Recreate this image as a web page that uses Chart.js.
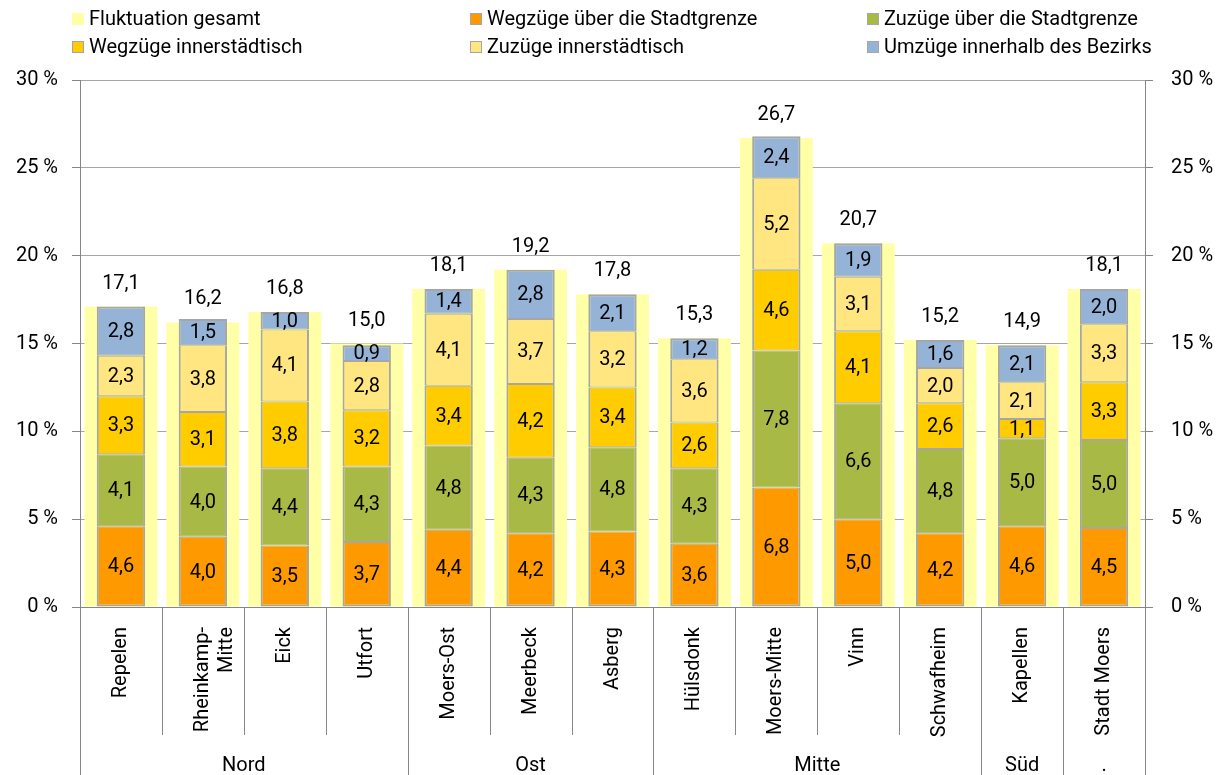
<!DOCTYPE html>
<html lang="de">
<head>
<meta charset="utf-8">
<title>Fluktuation nach Bezirken</title>
<script src="https://cdn.jsdelivr.net/npm/chart.js@4.4.1/dist/chart.umd.min.js"></script>
<style>
    body { margin: 0; background: #fff; font-family: Roboto, sans-serif; }
    #wrap { position: relative; width: 1217px; height: 775px; overflow: hidden; }
    #legend { position: absolute; top: 0; left: 0; width: 1217px; height: 70px; }
    .item { position: absolute; font-size: 20px; line-height: 24px; color: #000; white-space: nowrap; }
    .box { display: inline-block; width: 10px; height: 10px; border: 1px solid #a6a6a6; margin-right: 5px; vertical-align: 0; }
</style>
</head>
<body>
<div id="wrap">
    <canvas id="chart" width="1217" height="775"></canvas>
    <div id="legend"></div>
</div>
<script>
// ========== DATA ==========
const categories = [
    "Repelen", ["Rheinkamp-", "Mitte"], "Eick", "Utfort", "Moers-Ost", "Meerbeck", "Asberg",
    "Hülsdonk", "Moers-Mitte", "Vinn", "Schwafheim", "Kapellen", "Stadt Moers"
];
const groupLabels = ["Nord", "Ost", "Mitte", "Süd", "."];
const groupSizes = [4, 3, 4, 1, 1];

const fluktuationGesamt = [17.1, 16.2, 16.8, 15.0, 18.1, 19.2, 17.8, 15.3, 26.7, 20.7, 15.2, 14.9, 18.1];
const wegzuegeStadtgrenze = [4.6, 4.0, 3.5, 3.7, 4.4, 4.2, 4.3, 3.6, 6.8, 5.0, 4.2, 4.6, 4.5];
const zuzuegeStadtgrenze = [4.1, 4.0, 4.4, 4.3, 4.8, 4.3, 4.8, 4.3, 7.8, 6.6, 4.8, 5.0, 5.0];
const wegzuegeInnerstaedtisch = [3.3, 3.1, 3.8, 3.2, 3.4, 4.2, 3.4, 2.6, 4.6, 4.1, 2.6, 1.1, 3.3];
const zuzuegeInnerstaedtisch = [2.3, 3.8, 4.1, 2.8, 4.1, 3.7, 3.2, 3.6, 5.2, 3.1, 2.0, 2.1, 3.3];
const umzuegeBezirk = [2.8, 1.5, 1.0, 0.9, 1.4, 2.8, 2.1, 1.2, 2.4, 1.9, 1.6, 2.1, 2.0];

const yTicks = [0, 5, 10, 15, 20, 25, 30];

// Colors
const C_TOTAL = "#ffffa8";
const C_ORANGE = "#ff9900";
const C_GREEN = "#a9b946";
const C_GOLD = "#ffcc00";
const C_PALE = "#ffe680";
const C_BLUE = "#95b3d7";
const C_BORDER = "#a6a6a6";
const C_AXIS = "#868686";

const FONT = "Roboto, 'Noto Sans', sans-serif";
Chart.defaults.font.family = FONT;
Chart.defaults.font.size = 20;
Chart.defaults.color = "#000";

const fmt = v => v.toFixed(1).replace(".", ",");

// ========== LEGEND (HTML) ==========
const legendItems = [
    { text: "Fluktuation gesamt", color: C_TOTAL, border: false, x: 72, y: 6 },
    { text: "Wegzüge über die Stadtgrenze", color: C_ORANGE, border: true, x: 470, y: 6 },
    { text: "Zuzüge über die Stadtgrenze", color: C_GREEN, border: true, x: 867, y: 6 },
    { text: "Wegzüge innerstädtisch", color: C_GOLD, border: true, x: 72, y: 34 },
    { text: "Zuzüge innerstädtisch", color: C_PALE, border: true, x: 470, y: 34 },
    { text: "Umzüge innerhalb des Bezirks", color: C_BLUE, border: true, x: 867, y: 34 }
];
const legendEl = document.getElementById("legend");
legendItems.forEach(it => {
    const d = document.createElement("div");
    d.className = "item";
    d.style.left = it.x + "px";
    d.style.top = it.y + "px";
    const b = document.createElement("span");
    b.className = "box";
    b.style.background = it.color;
    if (!it.border) b.style.borderColor = it.color;
    d.appendChild(b);
    d.appendChild(document.createTextNode(it.text));
    legendEl.appendChild(d);
});

// ========== PLUGINS ==========
const valueLabels = {
    id: "valueLabels",
    afterDatasetsDraw(chart) {
        const ctx = chart.ctx;
        ctx.save();
        ctx.font = "20px " + FONT;
        ctx.fillStyle = "#000";
        ctx.textAlign = "center";
        ctx.textBaseline = "middle";
        chart.data.datasets.forEach((ds, di) => {
            const meta = chart.getDatasetMeta(di);
            meta.data.forEach((el, i) => {
                const v = ds.data[i];
                if (ds.stack === "total") {
                    ctx.fillText(fmt(v), el.x, el.y - 23);
                } else {
                    ctx.fillText(fmt(v), el.x, (el.y + el.base) / 2 + 1);
                }
            });
        });
        ctx.restore();
    }
};

const groupAxis = {
    id: "groupAxis",
    afterDraw(chart) {
        const ctx = chart.ctx;
        const area = chart.chartArea;
        const n = categories.length;
        const w = (area.right - area.left) / n;
        const groupEnds = [0];
        groupSizes.reduce((acc, s) => { groupEnds.push(acc + s); return acc + s; }, 0);

        ctx.save();
        ctx.strokeStyle = C_AXIS;
        ctx.lineWidth = 1;
        for (let i = 0; i <= n; i++) {
            const x = Math.round(area.left + i * w) + 0.5;
            const full = groupEnds.includes(i);
            ctx.beginPath();
            ctx.moveTo(x, area.bottom);
            ctx.lineTo(x, full ? 775 : 735);
            ctx.stroke();
        }
        ctx.font = "20px " + FONT;
        ctx.fillStyle = "#000";
        ctx.textAlign = "center";
        ctx.textBaseline = "middle";
        groupLabels.forEach((g, gi) => {
            const cx = area.left + (groupEnds[gi] + groupEnds[gi + 1]) / 2 * w;
            ctx.fillText(g, cx, 766);
        });
        ctx.restore();
    }
};

// ========== CHART ==========
const partOpts = {
    stack: "parts",
    grouped: false,
    categoryPercentage: 1,
    barPercentage: 0.59,
    borderColor: C_BORDER,
    borderSkipped: false
};
const midBorder = { top: 1, bottom: 1, left: 2, right: 2 };

new Chart(document.getElementById("chart"), {
    type: "bar",
    data: {
        labels: categories,
        datasets: [
            { ...partOpts, label: "Wegzüge über die Stadtgrenze", data: wegzuegeStadtgrenze,
              backgroundColor: C_ORANGE, borderWidth: { top: 1, bottom: 2, left: 2, right: 2 } },
            { ...partOpts, label: "Zuzüge über die Stadtgrenze", data: zuzuegeStadtgrenze,
              backgroundColor: C_GREEN, borderWidth: midBorder },
            { ...partOpts, label: "Wegzüge innerstädtisch", data: wegzuegeInnerstaedtisch,
              backgroundColor: C_GOLD, borderWidth: midBorder },
            { ...partOpts, label: "Zuzüge innerstädtisch", data: zuzuegeInnerstaedtisch,
              backgroundColor: C_PALE, borderWidth: midBorder },
            { ...partOpts, label: "Umzüge innerhalb des Bezirks", data: umzuegeBezirk,
              backgroundColor: C_BLUE, borderWidth: { top: 2, bottom: 1, left: 2, right: 2 } },
            // drawn first (behind) because it is last
            { label: "Fluktuation gesamt", data: fluktuationGesamt, stack: "total",
              grouped: false, categoryPercentage: 1, barPercentage: 0.89,
              backgroundColor: C_TOTAL, borderWidth: 0 }
        ]
    },
    options: {
        responsive: false,
        animation: false,
        layout: { padding: { top: 80, left: 0, right: 0, bottom: 0 } },
        plugins: {
            legend: { display: false },
            tooltip: { enabled: false }
        },
        scales: {
            x: {
                stacked: true,
                grid: { display: false },
                border: { display: true, color: C_AXIS, width: 1 },
                ticks: { autoSkip: false, minRotation: 90, maxRotation: 90, padding: 12, color: "#000" },
                afterFit: s => { s.height = 168; }
            },
            y: {
                stacked: true,
                position: "left",
                min: 0,
                max: 30,
                afterBuildTicks: s => { s.ticks = yTicks.map(v => ({ value: v })); },
                grid: { color: "#a6a6a6", tickLength: 8, tickColor: C_AXIS },
                border: { display: true, color: C_AXIS, width: 1 },
                ticks: { padding: 14, callback: v => v + " %" },
                afterFit: s => { s.width = 80; }
            },
            y2: {
                position: "right",
                min: 0,
                max: 30,
                afterBuildTicks: s => { s.ticks = yTicks.map(v => ({ value: v })); },
                grid: { drawOnChartArea: false, tickLength: 8, color: C_AXIS },
                border: { display: true, color: C_AXIS, width: 1 },
                ticks: { padding: 18, callback: v => v + " %" },
                afterFit: s => { s.width = 72; }
            }
        }
    },
    plugins: [valueLabels, groupAxis]
});
</script>
</body>
</html>
